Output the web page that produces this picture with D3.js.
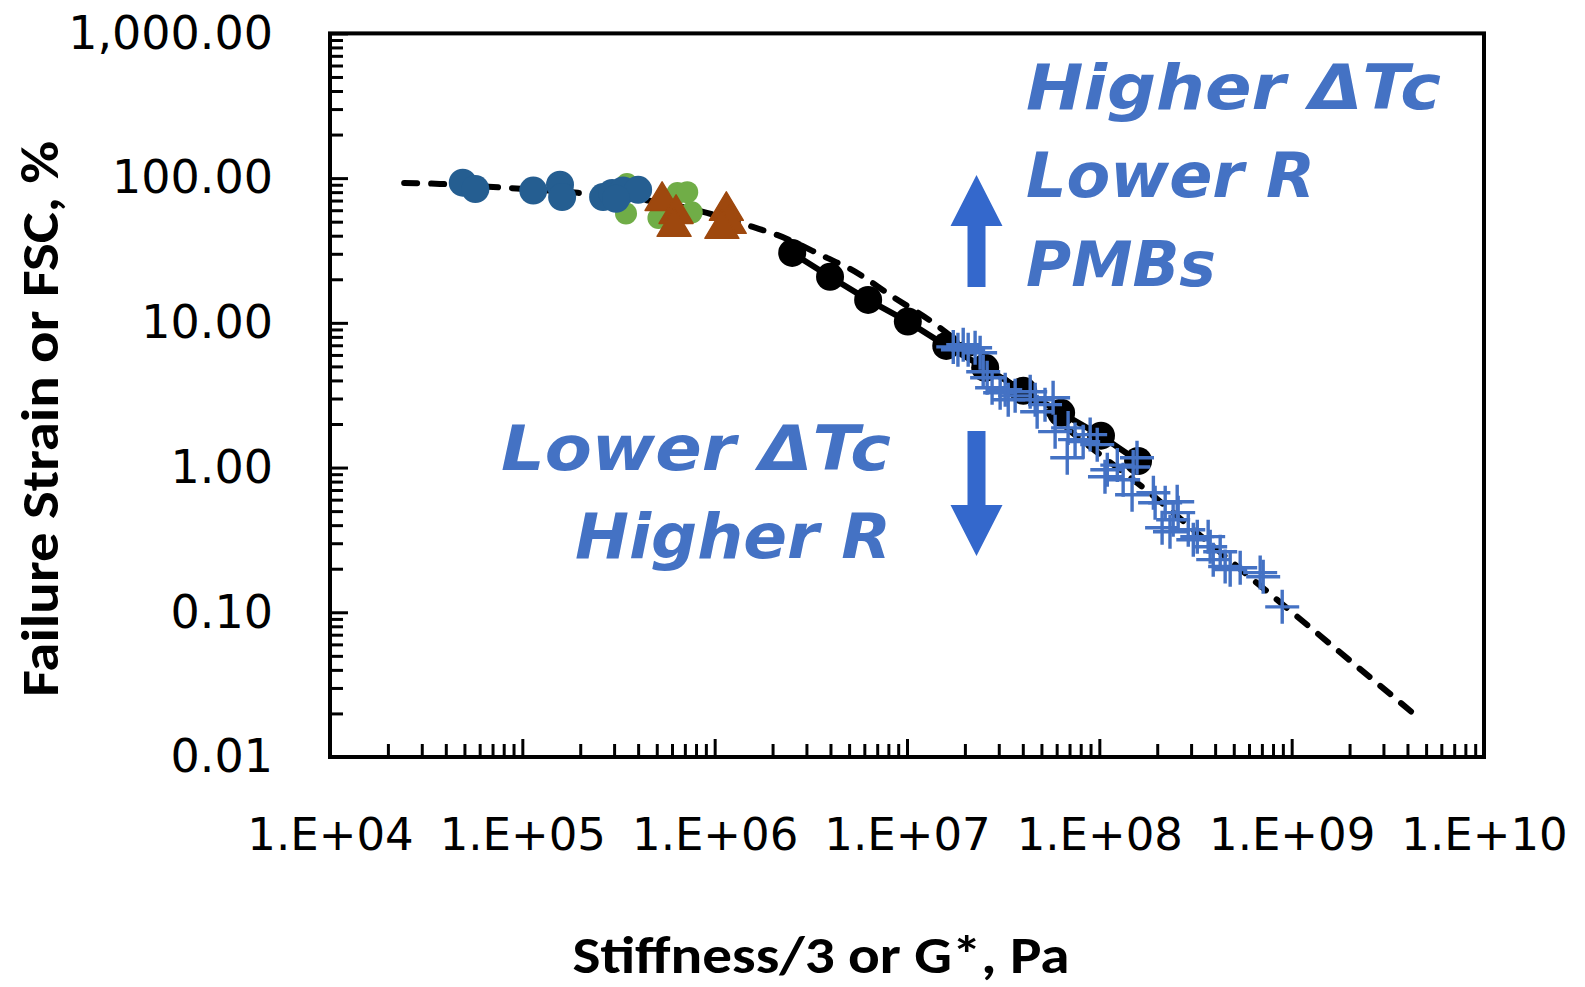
<!DOCTYPE html>
<html><head><meta charset="utf-8">
<script src="https://cdn.jsdelivr.net/npm/d3@7"></script>
<style>html,body{margin:0;padding:0;background:#fff;}svg{display:block;}</style>
</head><body>
<svg id="chart" width="1585" height="987"></svg>
<script>
// ---- data (Pa, %) ----
const xTickValues = [1e4, 1e5, 1e6, 1e7, 1e8, 1e9, 1e10];
const yTickValues = [0.01, 0.1, 1, 10, 100, 1000];

const blueX = [4.9e4, 5.7e4, 1.14e5, 1.57e5, 1.61e5, 2.63e5, 2.93e5, 3.34e5, 4.0e5, 3.07e5];
const blueY = [93, 84, 82, 90, 74, 74, 79, 82, 83, 72];

const greenX = [3.5e5, 3.46e5, 5.1e5, 6.4e5, 7.2e5, 7.6e5];
const greenY = [91, 57, 53, 79, 80, 58];

const brownX = [5.33e5, 6.3e5, 6.15e5, 1.15e6, 1.19e6, 1.09e6];
const brownY = [69.6, 56.6, 46.1, 59.4, 48.3, 44.6];

const blackX = [2.53e6, 3.98e6, 6.28e6, 1.01e7, 1.6e7, 2.55e7, 4.02e7, 6.33e7, 1.02e8, 1.59e8];
const blackY = [30.4, 20.8, 14.4, 10.2, 6.93, 4.89, 3.39, 2.39, 1.66, 1.11];

const crossX = [1.74e7, 1.84e7, 1.96e7, 2.08e7, 2.26e7, 2.40e7, 2.49e7, 2.61e7, 2.77e7, 3.05e7,
  3.24e7, 3.36e7, 3.65e7, 4.37e7, 4.64e7, 4.75e7, 5.75e7, 5.89e7, 6.88e7, 6.81e7,
  8.24e7, 8.96e7, 9.75e7, 1.07e8, 1.10e8, 1.24e8, 1.33e8, 1.48e8, 1.57e8, 1.50e8,
  1.91e8, 1.95e8, 2.12e8, 2.20e8, 2.33e8, 2.42e8, 2.54e8, 2.57e8, 2.90e8, 3.08e8,
  3.23e8, 3.68e8, 3.77e8, 3.91e8, 4.25e8, 4.51e8, 4.79e8, 5.40e8, 6.86e8, 7.11e8,
  8.93e8, 5.22e7, 7.48e7];
const crossY = [6.82, 6.51, 7.05, 6.51, 6.72, 6.21, 4.59, 4.17, 3.56, 3.29,
  3.45, 2.94, 3.13, 3.34, 2.94, 2.43, 3.04, 1.77, 1.88, 1.17,
  1.51, 1.69, 1.44, 0.864, 0.966, 1.04, 0.824, 0.649, 1.17, 1.01,
  0.670, 0.571, 0.384, 0.571, 0.360, 0.436, 0.581, 0.488, 0.372, 0.317,
  0.333, 0.333, 0.284, 0.231, 0.262, 0.207, 0.197, 0.203, 0.188, 0.176,
  0.109, 2.72, 1.56];

const fitX = [2.43e4, 3.73e4, 7.66e4, 1.95e5, 4.09e5, 9.12e5, 1.58e6, 2.11e6, 3.84e6, 5.06e6,
  8.47e6, 1.37e7, 2.55e7, 4.92e7, 8.95e7, 1.67e8, 3.43e8, 7.28e8, 4.2e9];
const fitY = [92.7, 91.2, 86.3, 79.1, 71.5, 57.5, 46.0, 40.5, 28.1, 23.6,
  15.1, 10.0, 5.21, 2.63, 1.39, 0.736, 0.33, 0.143, 0.0205];

const annotTop = ["Higher ΔTc", "Lower R", "PMBs"];
const annotBottom = ["Lower ΔTc", "Higher R"];
const xTitle = "Stiffness/3 or G*, Pa";
const yTitle = "Failure Strain or FSC, %";

// ---- layout ----
const svg = d3.select("#chart");
const L = 330, R = 1484, T = 33.4, B = 757;
const x = d3.scaleLog().domain([1e4, 1e10]).range([L, R]);
const y = d3.scaleLog().domain([0.01, 1000]).range([B, T]);

const minorVals = (vals) => {
  const out = [];
  for (let i = 0; i < vals.length - 1; i++) for (let k = 2; k <= 9; k++) out.push(vals[i] * k);
  return out;
};

const tickFont = "'DejaVu Sans', sans-serif";
const titleFont = "Calibri, Carlito, 'Liberation Sans Narrow', 'Open Sans', sans-serif";
const annFont = "'Comic Sans MS', 'DejaVu Sans', sans-serif";

// y axis minor / major
const gyMinor = svg.append("g").attr("transform", `translate(${L},0)`)
  .call(d3.axisLeft(y).tickValues(minorVals(yTickValues)).tickSize(-13).tickFormat(""));
const gy = svg.append("g").attr("transform", `translate(${L},0)`)
  .call(d3.axisLeft(y).tickValues(yTickValues).tickSize(-18).tickPadding(57)
    .tickFormat(d3.format(",.2f")));
// x axis
const gxMinor = svg.append("g").attr("transform", `translate(0,${B})`)
  .call(d3.axisBottom(x).tickValues(minorVals(xTickValues)).tickSize(-13).tickFormat(""));
const gx = svg.append("g").attr("transform", `translate(0,${B})`)
  .call(d3.axisBottom(x).tickValues(xTickValues).tickSize(-18).tickPadding(61)
    .tickFormat(d => "1.E+" + String(Math.round(Math.log10(d))).padStart(2, "0")));

[gyMinor, gy, gxMinor, gx].forEach(g => {
  g.select(".domain").remove();
  g.selectAll(".tick line").attr("stroke", "#000").attr("stroke-width", 3);
  g.selectAll(".tick text").attr("fill", "#000").style("font-family", tickFont).style("font-size", "45px");
});
gy.selectAll(".tick text").style("font-size", "46px");

// frame
svg.append("rect").attr("x", L).attr("y", T).attr("width", R - L).attr("height", B - T)
  .attr("fill", "none").attr("stroke", "#000").attr("stroke-width", 4);

// fit dashed line
const lineGen = d3.line().x(d => x(d[0])).y(d => y(d[1])).curve(d3.curveMonotoneX);
svg.append("path").datum(d3.zip(fitX, fitY)).attr("d", lineGen)
  .attr("fill", "none").attr("stroke", "#000").attr("stroke-width", 6)
  .attr("stroke-dasharray", "13 14").attr("stroke-linecap", "round");

// green circles
svg.append("g").selectAll("circle").data(d3.zip(greenX, greenY)).join("circle")
  .attr("cx", d => x(d[0])).attr("cy", d => y(d[1])).attr("r", 11).attr("fill", "#70AD47");
// blue circles
svg.append("g").selectAll("circle").data(d3.zip(blueX, blueY)).join("circle")
  .attr("cx", d => x(d[0])).attr("cy", d => y(d[1])).attr("r", 14).attr("fill", "#255E91");
// brown triangles
const tri = "M0,-19L17,9.5L-17,9.5Z";
svg.append("g").selectAll("path").data(d3.zip(brownX, brownY)).join("path")
  .attr("transform", d => `translate(${x(d[0])},${y(d[1])})`).attr("d", tri)
  .attr("fill", "#9E480E").attr("stroke", "#9E480E").attr("stroke-width", 1.5).attr("stroke-linejoin", "round");

// black line + circles
svg.append("path").datum(d3.zip(blackX, blackY)).attr("d", d3.line().x(d => x(d[0])).y(d => y(d[1])))
  .attr("fill", "none").attr("stroke", "#000").attr("stroke-width", 6);
svg.append("g").selectAll("circle").data(d3.zip(blackX, blackY)).join("circle")
  .attr("cx", d => x(d[0])).attr("cy", d => y(d[1])).attr("r", 14).attr("fill", "#000");

// blue crosses
svg.append("g").selectAll("path").data(d3.zip(crossX, crossY)).join("path")
  .attr("transform", d => `translate(${x(d[0])},${y(d[1])})`).attr("d", "M-17,0H17M0,-17V17")
  .attr("fill", "none").attr("stroke", "#4472C4").attr("stroke-width", 3.4);

// arrows
const arrowColor = "#3468CC";
const ax = 976.5;
svg.append("path").attr("fill", arrowColor)
  .attr("d", `M${ax},175 L${ax + 26},226 L${ax + 9},226 L${ax + 9},287 L${ax - 9},287 L${ax - 9},226 L${ax - 26},226 Z`);
svg.append("path").attr("fill", arrowColor)
  .attr("d", `M${ax - 9},431 L${ax + 9},431 L${ax + 9},505 L${ax + 26},505 L${ax},556 L${ax - 26},505 L${ax - 9},505 Z`);

// annotation texts
const annColor = "#4472C4";
const topLines = [{y: 109, w: 415}, {y: 197, w: 289}, {y: 286, w: 190}];
annotTop.forEach((t, i) => {
  svg.append("text").attr("x", 1026).attr("y", topLines[i].y).text(t)
    .attr("fill", annColor).style("font-family", annFont).style("font-size", "63px")
    .style("font-weight", "bold").style("font-style", "italic")
    .attr("textLength", topLines[i].w).attr("lengthAdjust", "spacingAndGlyphs");
});
const botLines = [{y: 470, w: 390}, {y: 558, w: 316}];
annotBottom.forEach((t, i) => {
  svg.append("text").attr("x", 891 - botLines[i].w).attr("y", botLines[i].y).text(t)
    .attr("fill", annColor).style("font-family", annFont).style("font-size", "63px")
    .style("font-weight", "bold").style("font-style", "italic")
    .attr("textLength", botLines[i].w).attr("lengthAdjust", "spacingAndGlyphs");
});

// axis titles
svg.append("text").attr("x", 821).attr("y", 973).attr("text-anchor", "middle").text(xTitle)
  .style("font-family", titleFont).style("font-size", "52px").style("font-weight", "bold")
  .attr("textLength", 497).attr("lengthAdjust", "spacingAndGlyphs");
svg.append("text").attr("transform", "translate(58,419) rotate(-90)").attr("text-anchor", "middle").text(yTitle)
  .style("font-family", titleFont).style("font-size", "52px").style("font-weight", "bold")
  .attr("textLength", 556).attr("lengthAdjust", "spacingAndGlyphs");
</script>
</body></html>
